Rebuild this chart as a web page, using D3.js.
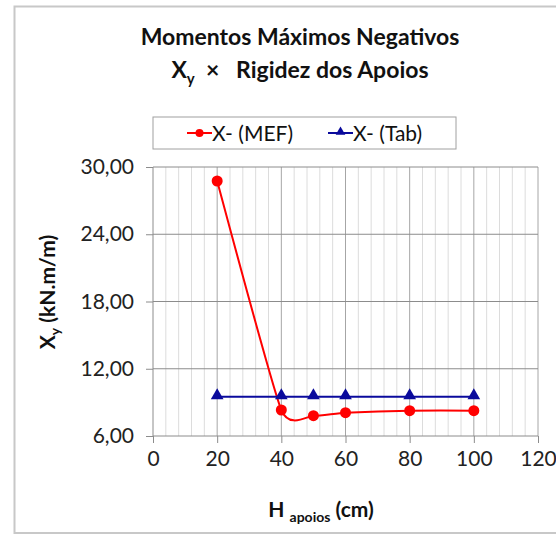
<!DOCTYPE html>
<html><head><meta charset="utf-8">
<script src="https://cdn.jsdelivr.net/npm/d3@7"></script>
<style>body{margin:0;background:#fff}svg{display:block}text{font-family:Lato,"Open Sans",sans-serif}</style>
</head><body>
<script>
const hApoios = [20, 40, 50, 60, 80, 100];
const xMEF = [28.75, 8.32, 7.81, 8.08, 8.26, 8.26];
const xTab = [9.51, 9.51, 9.51, 9.51, 9.51, 9.51];
const seriesNames = ["X- (MEF)", "X- (Tab)"];
const xTicks = [0, 20, 40, 60, 80, 100, 120];
const yTicks = [6, 12, 18, 24, 30];

const W = 556, H = 535;
const svg = d3.select("body").append("svg").attr("width", W).attr("height", H);
svg.append("rect").attr("x", 14.5).attr("y", 6.5).attr("width", 560).attr("height", 526.5)
  .attr("fill", "#fff").attr("stroke", "#c8c8c8").attr("stroke-width", 2);

const x = d3.scaleLinear().domain([0, 120]).range([153, 538]);
const y = d3.scaleLinear().domain([6, 30]).range([436, 167]);

// minor vertical gridlines
const g = svg.append("g");
g.selectAll(".minor").data(d3.range(4, 120, 4).filter(v => v % 20 !== 0)).join("line")
  .attr("x1", d => x(d)).attr("x2", d => x(d)).attr("y1", y(30)).attr("y2", y(6))
  .attr("stroke", "#dcdcdc").attr("stroke-width", 1);
g.selectAll(".majorx").data(xTicks.slice(1)).join("line")
  .attr("x1", d => x(d)).attr("x2", d => x(d)).attr("y1", y(30)).attr("y2", y(6))
  .attr("stroke", "#a6a6a6").attr("stroke-width", 1);
g.selectAll(".majory").data(yTicks.slice(1)).join("line")
  .attr("x1", x(0)).attr("x2", x(120)).attr("y1", d => y(d)).attr("y2", d => y(d))
  .attr("stroke", "#8c8c8c").attr("stroke-width", 1);

// axes
const xAxis = d3.axisBottom(x).tickValues(xTicks).tickSize(7).tickPadding(8).tickFormat(d3.format("d"));
const yAxis = d3.axisLeft(y).tickValues(yTicks).tickSize(7).tickPadding(12)
  .tickFormat(d => d3.format(".2f")(d).replace(".", ","));
const gx = svg.append("g").attr("transform", `translate(0,${y(6)})`).call(xAxis);
const gy = svg.append("g").attr("transform", `translate(${x(0)},0)`).call(yAxis);
[gx, gy].forEach(a => {
  a.selectAll("path,line").attr("stroke", "#8c8c8c");
  a.selectAll("text").attr("font-size", 21).attr("fill", "#222").attr("font-family", "Lato");
});
gx.select(".domain").attr("d", `M${x(0)},0H${x(120)}`);
gy.select(".domain").attr("d", `M0,${y(6)}V${y(30)}`);

// series
const mef = hApoios.map((h, i) => [h, xMEF[i]]);
const tab = hApoios.map((h, i) => [h, xTab[i]]);
svg.append("path").datum(mef)
  .attr("d", d3.line().x(d => x(d[0])).y(d => y(d[1])).curve(d3.curveCardinal.tension(0.5)))
  .attr("fill", "none").attr("stroke", "#ff0000").attr("stroke-width", 2);
svg.append("path").datum(tab)
  .attr("d", d3.line().x(d => x(d[0])).y(d => y(d[1])))
  .attr("fill", "none").attr("stroke", "#0a0a9c").attr("stroke-width", 2);
const tri = d3.symbol().type(d3.symbolTriangle).size(70);
svg.selectAll(".tri").data(tab).join("path")
  .attr("d", tri).attr("transform", d => `translate(${x(d[0])},${y(d[1]) - 1})`)
  .attr("fill", "#0a0a9c");
svg.selectAll(".dot").data(mef).join("circle")
  .attr("cx", d => x(d[0])).attr("cy", d => y(d[1])).attr("r", 5.5).attr("fill", "#ff0000");

// title
const title = svg.append("text").attr("text-anchor", "middle").attr("font-weight", "bold")
  .attr("font-size", 23).attr("fill", "#111");
title.append("tspan").attr("x", 300).attr("y", 45).text("Momentos Máximos Negativos");
const t2 = svg.append("text").attr("x", 300).attr("y", 78).attr("text-anchor", "middle")
  .attr("font-weight", "bold").attr("font-size", 23).attr("fill", "#111");
t2.append("tspan").text("X");
t2.append("tspan").attr("dy", 6).attr("font-size", 15).text("y");
t2.append("tspan").attr("dy", -6).text("  ×   Rigidez dos Apoios").attr("xml:space", "preserve");

// legend
const lg = svg.append("g");
lg.append("rect").attr("x", 153).attr("y", 117).attr("width", 303).attr("height", 32)
  .attr("fill", "#fff").attr("stroke", "#a0a0a0").attr("stroke-width", 1);
const legendItems = [{name: seriesNames[0], color: "#ff0000", x0: 187, sym: "circle"},
                     {name: seriesNames[1], color: "#0a0a9c", x0: 328, sym: "tri"}];
legendItems.forEach(it => {
  lg.append("line").attr("x1", it.x0).attr("x2", it.x0 + 25).attr("y1", 133).attr("y2", 133)
    .attr("stroke", it.color).attr("stroke-width", 2);
  if (it.sym === "circle") lg.append("circle").attr("cx", it.x0 + 12.5).attr("cy", 133).attr("r", 4).attr("fill", it.color);
  else lg.append("path").attr("d", d3.symbol().type(d3.symbolTriangle).size(40)).attr("transform", `translate(${it.x0 + 12.5},132)`).attr("fill", it.color);
  lg.append("text").attr("x", it.x0 + 25).attr("y", 140.5).attr("font-size", 21).attr("fill", "#111").text(it.name);
});

// axis titles
const xt = svg.append("text").attr("x", 321).attr("y", 517).attr("text-anchor", "middle")
  .attr("font-weight", "bold").attr("font-size", 21).attr("fill", "#111");
xt.append("tspan").text("H ");
xt.append("tspan").attr("dy", 5).attr("font-size", 14).text("apoios");
xt.append("tspan").attr("dy", -5).text(" (cm)");
const yt = svg.append("text").attr("transform", "translate(55,292) rotate(-90)").attr("text-anchor", "middle")
  .attr("font-weight", "bold").attr("font-size", 21).attr("fill", "#111");
yt.append("tspan").text("X");
yt.append("tspan").attr("dy", 5).attr("font-size", 14).text("y");
yt.append("tspan").attr("dy", -5).text(" (kN.m/m)");
</script>
</body></html>
